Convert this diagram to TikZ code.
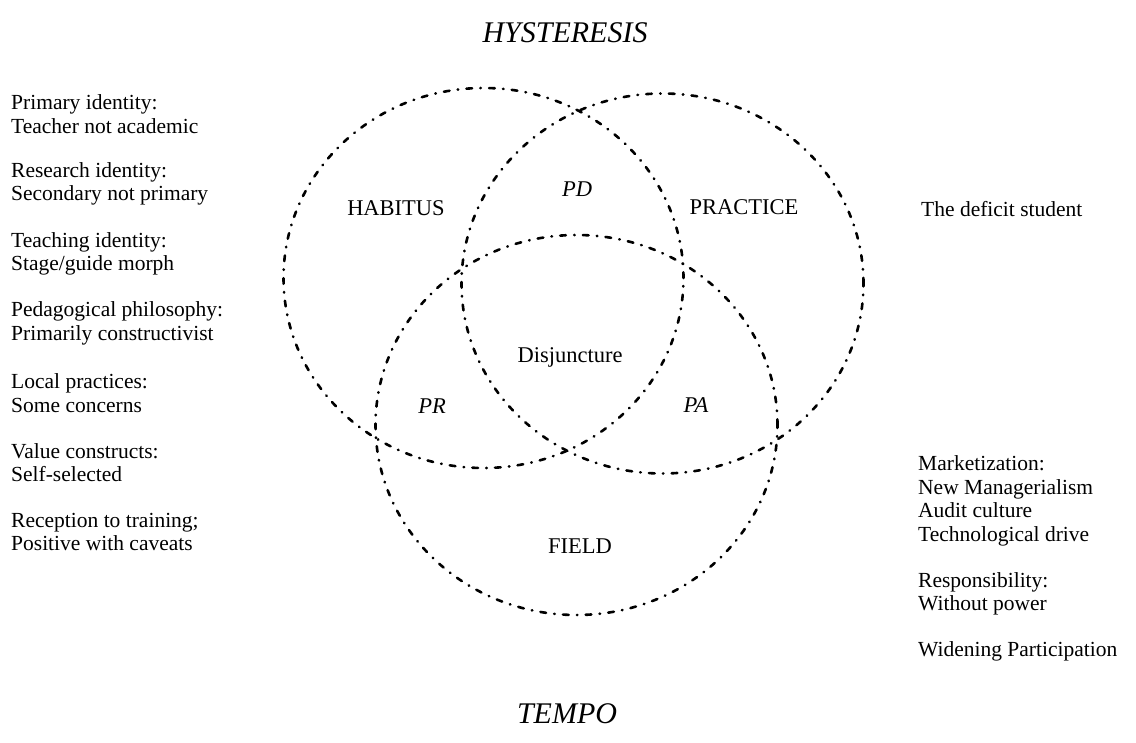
\documentclass[tikz,border=0pt]{standalone}
\usepackage{fontspec}
\setmainfont{Liberation Serif}
\begin{document}
\begin{tikzpicture}[x=1pt,y=-1pt,
  ring/.style={draw=black, line width=2.6pt, line cap=round,
    dash pattern=on 5.7pt off 8.2pt on 0.6pt off 8.2pt},
  lbl/.style={font=\fontsize{22.5}{24}\selectfont, inner sep=0pt},
  itl/.style={font=\fontsize{22.5}{24}\selectfont\itshape, inner sep=0pt},
  side/.style={font=\fontsize{21.5}{23.5}\selectfont, align=left, inner sep=0pt, anchor=west},
  heading/.style={font=\fontsize{30}{32}\selectfont\itshape, inner sep=0pt}]
\useasboundingbox (0,0) rectangle (1136,743);

% the three overlapping sets
\draw[ring] (483.5,278) ellipse [x radius=200pt, y radius=190pt];
\draw[ring] (662.5,283.5) ellipse [x radius=201pt, y radius=190pt];
\draw[ring] (576.5,425) ellipse [x radius=201pt, y radius=190pt];

% headings
\node[heading] (hyst) at (565,33) {HYSTERESIS};
\node[heading] (tempo) at (567,714) {TEMPO};

% set and overlap labels
\node[lbl] (habitus) at (396,208) {HABITUS};
\node[lbl] (practice) at (744,207) {PRACTICE};
\node[lbl] (field) at (580,546) {FIELD};
\node[lbl] (disj) at (570,357) {Disjuncture};
\node[itl] (pd) at (577,189) {PD};
\node[itl] (pr) at (432,406) {PR};
\node[itl] (pa) at (696,405) {PA};

% habitus attributes
\node[side] (l1) at (11,114) {Primary identity:\\Teacher not academic};
\node[side] (l2) at (11,184) {Research identity:\\Secondary not primary};
\node[side] (l3) at (11,254) {Teaching identity:\\Stage/guide morph};
\node[side] (l4) at (11,323.5) {Pedagogical philosophy:\\Primarily constructivist};
\node[side] (l5) at (11,393) {Local practices:\\Some concerns};
\node[side] (l6) at (11,462.5) {Value constructs:\\Self-selected};
\node[side] (l7) at (11,532) {Reception to training;\\Positive with caveats};

% field pressures
\node[side] (r1) at (921,209) {The deficit student};
\node[side] (r2) at (918,501) {Marketization:\\New Managerialism\\Audit culture\\Technological drive};
\node[side] (r3) at (918,594) {Responsibility:\\Without power};
\node[side] (r4) at (918,651) {Widening Participation};
\end{tikzpicture}
\end{document}
